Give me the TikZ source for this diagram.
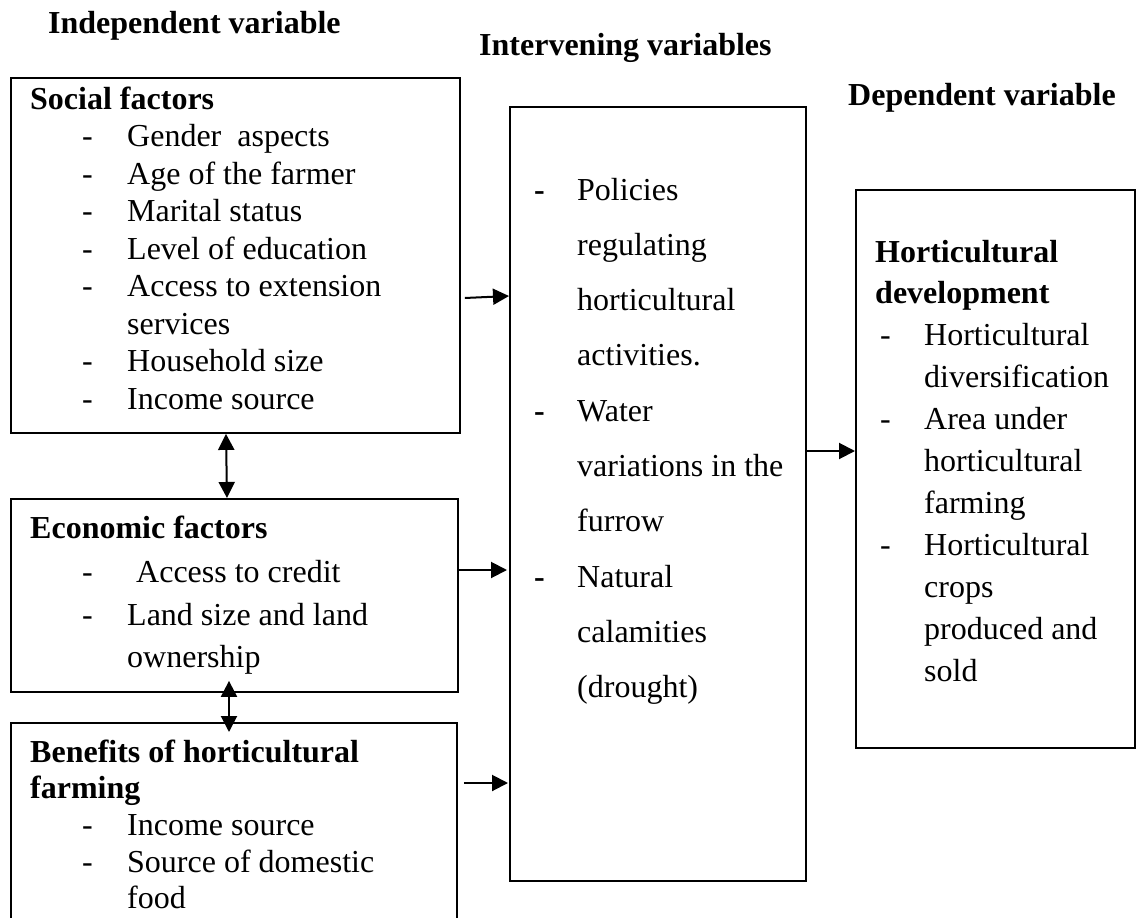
\documentclass[tikz,border=0pt]{standalone}
\usepackage{fontspec}
\setmainfont{Liberation Serif}
\usetikzlibrary{arrows.meta}
\tikzset{
  x=1pt,y=-1pt,
  box/.style={draw,line width=1.9pt,anchor=north west,inner sep=0pt},
  txt/.style={anchor=base west,inner sep=0pt,font=\fontsize{32}{36}\selectfont},
  bld/.style={txt,font=\fontsize{32}{36}\selectfont\bfseries},
  arr/.style={line width=2pt,-{Triangle[length=16pt,width=16pt]}},
  darr/.style={line width=2pt,{Triangle[length=16pt,width=16pt]}-{Triangle[length=16pt,width=16pt]}}
}
\begin{document}
\begin{tikzpicture}
\useasboundingbox (0,0) rectangle (1136,918);
\clip (0,0) rectangle (1136,918);
% headings
\node[bld] (hind) at (48,33) {Independent variable};
\node[bld] (hint) at (479,55) {Intervening variables};
\node[bld] (hdep) at (848,105) {Dependent variable};
% boxes
\node[box,minimum width=449pt,minimum height=355pt] (social) at (10,77) {};
\node[box,minimum width=447pt,minimum height=193pt] (econ) at (10,498) {};
\node[box,minimum width=446pt,minimum height=220pt] (ben) at (10,722) {};
\node[box,minimum width=296pt,minimum height=774pt] (mid) at (509,106) {};
\node[box,minimum width=279pt,minimum height=558pt] (dep) at (855,189) {};
% social factors
\node[bld] (s0) at (30,109) {Social factors};
\foreach \t/\y [count=\i] in {Gender\ \ aspects/146.5,Age of the farmer/184,Marital status/221.5,Level of education/259,Access to extension/296.5,Household size/371.5,Income source/409}{
  \node[txt] (sd\i) at (82,\y) {-};
  \node[txt] (st\i) at (127,\y) {\t};
}
\node[txt] (s8) at (127,334) {services};
% economic factors
\node[bld] (e0) at (30,538) {Economic factors};
\node[txt] (ed1) at (82,582) {-};
\node[txt] (et1) at (136,582) {Access to credit};
\node[txt] (ed2) at (82,625) {-};
\node[txt] (et2) at (127,625) {Land size and land};
\node[txt] (et3) at (127,667) {ownership};
% benefits
\node[bld] (b0) at (30,762) {Benefits of horticultural};
\node[bld] (b1) at (30,798) {farming};
\node[txt] (bd1) at (82,835) {-};
\node[txt] (bt1) at (127,835) {Income source};
\node[txt] (bd2) at (82,872) {-};
\node[txt] (bt2) at (127,872) {Source of domestic};
\node[txt] (bt3) at (127,908) {food};
% intervening
\foreach \t/\y [count=\i] in {Policies/200,regulating/255.3,horticultural/310.6,activities./365.9,Water/421.2,variations in the/476.5,furrow/531.8,Natural/587.1,calamities/642.4,(drought)/697.7}{
  \node[txt] (mt\i) at (577,\y) {\t};
}
\node[bld] (md1) at (534,200) {-};
\node[bld] (md2) at (534,421.2) {-};
\node[bld] (md3) at (534,587.1) {-};
% dependent
\node[bld] (d0) at (875,262) {Horticultural};
\node[bld] (d1) at (875,303.9) {development};
\foreach \t/\y [count=\i] in {Horticultural/345.8,diversification/387.7,Area under/429.6,horticultural/471.5,farming/513.4,Horticultural/555.3,crops/597.2,produced and/639.1,sold/681}{
  \node[txt] (dt\i) at (924,\y) {\t};
}
\node[txt] (dd1) at (880,345.8) {-};
\node[txt] (dd2) at (880,429.6) {-};
\node[txt] (dd3) at (880,555.3) {-};
% connectors
\draw[arr] ([xshift=4pt]social.east |- 0,298) -- (mid.west |- 0,296);
\draw[arr] (econ.east |- 0,570) -- ([xshift=-2pt]mid.west |- 0,570);
\draw[arr] ([xshift=6pt]ben.east |- 0,783) -- ([xshift=-1pt]mid.west |- 0,783);
\draw[arr] (mid.east |- 0,451) -- (dep.west |- 0,451);
\draw[darr] (social.south -| 226,0) -- (econ.north -| 227,0);
\draw[darr] ([yshift=12pt]econ.south -| 229,0) -- ([yshift=-10pt]ben.north -| 229,0);
\end{tikzpicture}
\end{document}
